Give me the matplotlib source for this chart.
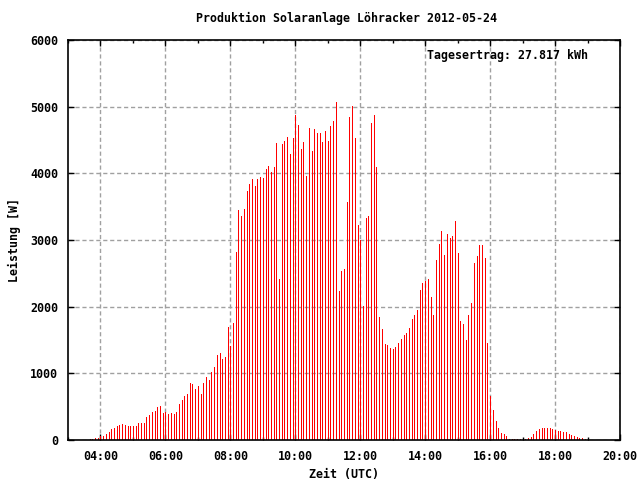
import matplotlib
matplotlib.use("Agg")
import matplotlib.pyplot as plt
from matplotlib.ticker import MultipleLocator, FuncFormatter

# 5-minute power readings [W], first sample at 03:40 UTC
start_hour = 3 + 40 / 60
step_min = 5
power = [
    # 03:40 - 07:55
    15, 15, 30, 35, 60, 60, 90, 120, 165, 180,
    210, 225, 240, 225, 210, 210, 210, 210, 255, 255,
    255, 345, 375, 420, 435, 495, 510, 405, 420, 390,
    405, 390, 420, 540, 600, 660, 690, 855, 840, 765,
    810, 690, 855, 945, 900, 1020, 1095, 1275, 1305, 1215,
    1245, 1690,
    # 08:00 - 08:05
    1410, 1750,
    # 08:10 - 12:30
    2826, 3451, 3362, 3466, 3734, 3839, 3913, 3809, 3913, 3943,
    3928, 4062, 4107, 4017, 4092, 4449, 2415, 4434, 4479, 4538,
    4285, 4524, 4881, 4732, 4360, 4464, 3958, 4687, 4330, 4658,
    4598, 4598, 4464, 4628, 4479, 4717, 4792, 5074, 2235, 2535,
    2565, 3571, 4851, 5015, 4524, 3228, 3005, 2015, 3332, 3362,
    4762, 4881, 4092,
    # 12:35 - 16:30
    1845, 1660, 1435, 1420, 1375, 1360, 1390, 1450, 1510, 1570,
    1600, 1675, 1810, 1870, 1945, 2250, 2350, 2380, 2410, 2150,
    1880, 2707, 2945, 3139, 2782, 3094, 3035, 3065, 3288, 2811,
    1791, 1746, 1493, 1880, 2050, 2662, 2767, 2930, 2930, 2737,
    1448, 657, 448, 284, 179, 104, 90, 60,
    # 16:35 - 19:00
    15, 15, 15, 15, 15, 30, 15, 30, 45, 90,
    134, 164, 179, 179, 179, 179, 164, 149, 134, 134,
    119, 119, 90, 75, 60, 45, 30, 30, 15, 30,
]
# samples drawn in black instead of red
black_times = ["17:00", "19:00"]

title = "Produktion Solaranlage Löhracker 2012-05-24"
yield_text = "Tagesertrag: 27.817 kWh"
x_label = "Zeit (UTC)"
y_label = "Leistung [W]"

hours = [start_hour + i * step_min / 60 for i in range(len(power))]


def hhmm(h):
    m = int(round(h * 60))
    return f"{m // 60:02d}:{m % 60:02d}"


colors = ["black" if hhmm(h) in black_times else "#ff0000" for h in hours]

font = dict(family="DejaVu Sans Mono", weight="bold", size=8.4)

fig = plt.figure(figsize=(6.4, 4.8), dpi=100)
ax = fig.add_axes([68 / 640, 40 / 480, 552 / 640, 400 / 480])

# 0.72 pt = 1 px at 100 dpi, like gnuplot impulses
ax.vlines(hours, 0, power, colors=colors, linewidth=0.72, antialiased=False)

ax.set_xlim(3, 20)
ax.set_ylim(0, 6000)
ax.xaxis.set_major_locator(MultipleLocator(2))
ax.xaxis.set_minor_locator(MultipleLocator(1))
ax.yaxis.set_major_locator(MultipleLocator(1000))
ax.xaxis.set_major_formatter(FuncFormatter(lambda v, p: hhmm(v)))

ax.grid(True, which="major", color="#a0a0a0", linestyle=(0, (3, 2)), linewidth=1.0)
ax.set_axisbelow(True)
ax.tick_params(which="both", direction="in", top=True, right=True, width=1)
ax.tick_params(which="major", length=4.5, pad=7)
ax.tick_params(which="minor", length=2.5)
for lab in ax.get_xticklabels() + ax.get_yticklabels():
    lab.set(**font)
for s in ax.spines.values():
    s.set_linewidth(1.2)

ax.set_xlabel(x_label, labelpad=4, **font)
ax.set_ylabel(y_label, labelpad=7, **font)
fig.text(346 / 640, 1 - 18 / 480, title, ha="center", va="center", **font)
ax.text(19.0, 5760, yield_text, ha="right", va="center", **font)

fig.savefig("out.png", dpi=100)
